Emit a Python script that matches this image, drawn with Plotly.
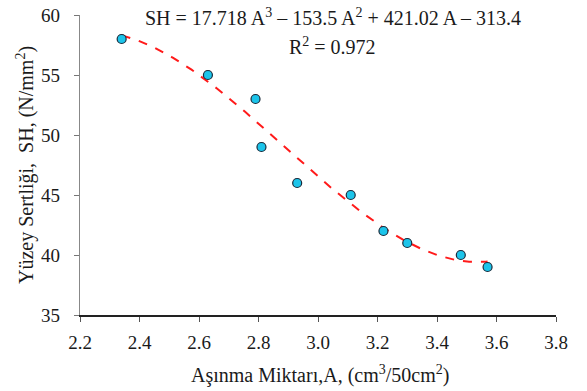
import numpy as np
import plotly.graph_objects as go

# Data
A_values = [2.34, 2.63, 2.79, 2.81, 2.93, 3.11, 3.22, 3.30, 3.48, 3.57]
SH_values = [58, 55, 53, 49, 46, 45, 42, 41, 40, 39]

# Cubic trendline coefficients (from the printed equation)
trend_coeffs = [17.718, -153.5, 421.02, -313.4]
equation_text = "SH = 17.718 A<sup>3</sup> – 153.5 A<sup>2</sup> + 421.02 A – 313.4"
r2_text = "R<sup>2</sup> = 0.972"

x_ticks = [2.2, 2.4, 2.6, 2.8, 3.0, 3.2, 3.4, 3.6, 3.8]
y_ticks = [35, 40, 45, 50, 55, 60]

x_title = "Aşınma Miktarı,A, (cm<sup>3</sup>/50cm<sup>2</sup>)"
y_title = "Yüzey Sertliği,  SH, (N/mm<sup>2</sup>)"

font_family = "Liberation Serif"
text_color = "#1a1a1a"
fs_tick = 19
fs_text = 20

A_fit = np.linspace(min(A_values), max(A_values), 200)
SH_fit = np.polyval(trend_coeffs, A_fit)

fig = go.Figure()
fig.add_trace(go.Scatter(
    x=A_fit, y=SH_fit, mode="lines",
    line=dict(color="#FF1A1A", width=2, dash="dash"),
    hoverinfo="skip", showlegend=False,
))
fig.add_trace(go.Scatter(
    x=A_values, y=SH_values, mode="markers",
    marker=dict(size=9, color="#1CC4EA", line=dict(color="#1a2a3a", width=1.2)),
    showlegend=False,
))

fig.update_layout(
    width=587, height=391,
    margin=dict(l=80, r=31, t=15, b=76, autoexpand=False),
    paper_bgcolor="white", plot_bgcolor="white",
    font=dict(family=font_family, size=fs_tick, color=text_color),
    showlegend=False,
)
fig.update_xaxes(
    range=[2.2, 3.8], tickvals=x_ticks, ticktext=[f"{v:.1f}" for v in x_ticks],
    showgrid=False, zeroline=False, showline=True, linecolor="#222222", linewidth=1.5,
    ticks="outside", ticklen=5, tickcolor="#555555", tickwidth=1,
    ticklabelstandoff=4, tickfont=dict(size=fs_tick), automargin=False,
)
fig.update_yaxes(
    range=[35, 60], tickvals=y_ticks,
    showgrid=False, zeroline=False, showline=True, linecolor="#888888", linewidth=1.2,
    ticks="outside", ticklen=5, tickcolor="#777777", tickwidth=1,
    ticklabelstandoff=10, tickfont=dict(size=fs_tick), automargin=False,
)

common = dict(xref="paper", yref="paper", showarrow=False,
              xanchor="center", yanchor="middle",
              font=dict(size=fs_text, family=font_family, color=text_color))
fig.add_annotation(text=equation_text, x=0.531, y=0.993, **common)
fig.add_annotation(text=r2_text, x=0.531, y=0.897, **common)
fig.add_annotation(text=x_title, x=0.504, y=-0.197, **common)
fig.add_annotation(text=y_title, x=-0.1155, y=0.5, textangle=-90, **common)

fig.write_html("out.html", config={"displayModeBar": False},
               post_script="document.body.style.margin='0';")
